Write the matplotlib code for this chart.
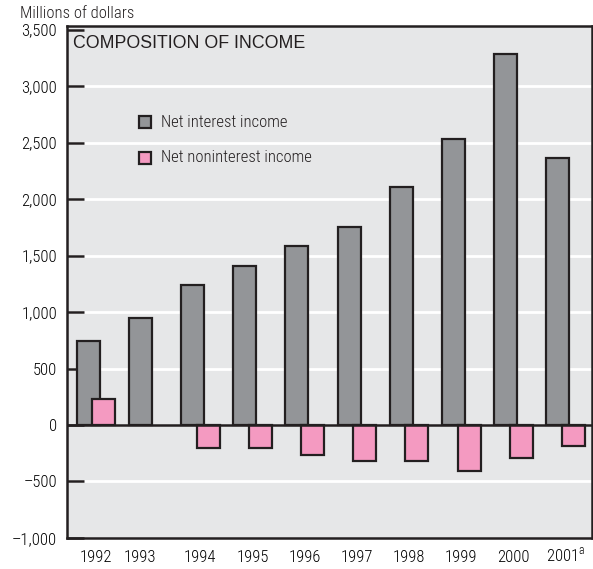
import numpy as np
import matplotlib.pyplot as plt
from matplotlib.patches import Rectangle

years = ['1992', '1993', '1994', '1995', '1996', '1997', '1998', '1999', '2000', r'2001$^{\mathrm{a}}$']
net_interest = [745, 950, 1235, 1410, 1585, 1755, 2105, 2535, 3280, 2365]
net_noninterest = [230, 0, -205, -205, -265, -320, -320, -410, -295, -185]
yticks = [-1000, -500, 0, 500, 1000, 1500, 2000, 2500, 3000, 3500]
ylabels = ['\u20131,000', '\u2013500', '0', '500', '1,000', '1,500',
           '2,000', '2,500', '3,000', '3,500']

GRAY = '#939598'
PINK = '#f49ac1'
BG = '#e6e7e8'
EDGE = '#231f20'

plt.rcParams['font.family'] = ['Roboto Condensed', 'DejaVu Sans']
plt.rcParams['font.weight'] = 'light'
plt.rcParams['mathtext.fontset'] = 'custom'
plt.rcParams['mathtext.rm'] = 'Roboto Condensed:light'
plt.rcParams['text.color'] = EDGE

fig = plt.figure(figsize=(5.93, 5.69), dpi=100)
ax = fig.add_axes([0.1125, 0.0545, 0.8855, 0.8995])
ax.set_facecolor(BG)

x = np.arange(len(years))
off = 0.15
w = 0.44

ax.bar(x - off, net_interest, width=w, color=GRAY, edgecolor=EDGE,
       linewidth=1.6, zorder=3)
pink_x = [xi + off for xi, v in zip(x, net_noninterest) if v != 0]
pink_v = [v for v in net_noninterest if v != 0]
ax.bar(pink_x, pink_v, width=w, color=PINK, edgecolor=EDGE,
       linewidth=1.6, zorder=4)

ax.axhline(0, color=EDGE, lw=1.8, zorder=5)

# white grid lines, skipping zero and the frame edges
for v in yticks:
    if v not in (0, -1000, 3500):
        ax.axhline(v, color='white', lw=2, zorder=1)

ax.set_xlim(-0.56, 9.5)
ax.set_ylim(-1000, 3530)

ax.set_yticks(yticks)
ax.set_yticklabels(ylabels, fontsize=12)
ax.tick_params(axis='y', direction='in', length=12, width=1.8, color=EDGE, pad=7)

# label sits under the group, or under the single bar when one is missing
tick_pos = [xi if v != 0 else xi - off for xi, v in zip(x, net_noninterest)]
ax.set_xticks(tick_pos)
# baseline alignment keeps the footnoted year level with the rest
ax.set_xticklabels(years, fontsize=12, va='baseline')
ax.tick_params(axis='x', length=0, pad=17)

for s in ax.spines.values():
    s.set_linewidth(1.8)
    s.set_color(EDGE)
    s.set_zorder(6)

ax.text(0.012, 0.983, 'COMPOSITION OF INCOME', transform=ax.transAxes,
        ha='left', va='top', fontsize=12.8, family='Liberation Sans',
        fontweight='normal', zorder=7)
fig.text(0.034, 0.977, 'Millions of dollars', ha='left', va='center', fontsize=12)

# legend drawn by hand
for i, (lab, col) in enumerate([('Net interest income', GRAY),
                                ('Net noninterest income', PINK)]):
    yy = 0.785 - i * 0.062
    fig.patches.append(Rectangle((0.234, yy - 0.0105), 0.0205, 0.021,
                                 transform=fig.transFigure, facecolor=col,
                                 edgecolor=EDGE, lw=1.6, zorder=8))
    fig.text(0.271, yy, lab, ha='left', va='center', fontsize=12)

fig.savefig('out.png', dpi=100)
